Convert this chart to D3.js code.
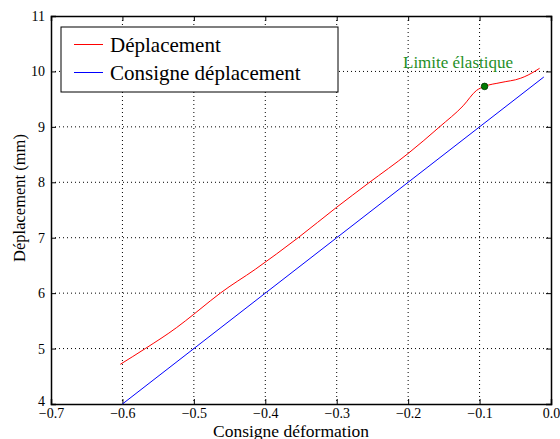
<!DOCTYPE html>
<html><head><meta charset="utf-8">
<script src="https://cdn.jsdelivr.net/npm/d3@7"></script>
<style>body{margin:0;background:#fff}svg{display:block}text{font-family:"Liberation Serif","Times New Roman",serif}</style>
</head><body><svg id="c" width="560" height="439"></svg>
<script>
const xTicks = [-0.7,-0.6,-0.5,-0.4,-0.3,-0.2,-0.1,0.0];
const yTicks = [4,5,6,7,8,9,10,11];
const depX = [-0.603,-0.568,-0.524,-0.5,-0.477,-0.463,-0.414,-0.354,-0.3,-0.255,-0.2,-0.156,-0.123,-0.104,-0.093,-0.07,-0.043,-0.032,-0.016];
const depY = [4.716,5.0,5.38,5.62,5.86,6.0,6.43,7.0,7.55,7.99,8.52,9.0,9.38,9.66,9.73,9.8,9.875,9.935,10.056];
const consX = [-0.6,-0.01];
const consY = [4.0,9.9];
const limitPoint = {x:-0.093, y:9.73, label:"Limite élastique"};
const seriesNames = ["Déplacement","Consigne déplacement"];

const svg = d3.select("#c");
const L=51,R=551,T=16,B=404;
const x = d3.scaleLinear().domain([-0.7,0]).range([L,R]);
const y = d3.scaleLinear().domain([4,11]).range([B,T]);
const fmtX = d=> d===0? "0.0" : (d<0?"\u2212":"")+Math.abs(d).toFixed(1);

// grid
const g = svg.append("g");
g.selectAll(".gx").data(xTicks.slice(1,-1)).join("line")
 .attr("x1",d=>x(d)).attr("x2",d=>x(d)).attr("y1",T).attr("y2",B)
 .attr("stroke","#000").attr("stroke-width",1).attr("stroke-dasharray","1,3");
g.selectAll(".gy").data(yTicks.slice(1,-1)).join("line")
 .attr("y1",d=>y(d)).attr("y2",d=>y(d)).attr("x1",L).attr("x2",R)
 .attr("stroke","#000").attr("stroke-width",1).attr("stroke-dasharray","1,3");

// axes (inward ticks on all sides)
const ax = svg.append("g").attr("transform",`translate(0,${B})`).call(d3.axisBottom(x).tickValues(xTicks).tickSize(-5).tickPadding(4).tickFormat(fmtX));
const ay = svg.append("g").attr("transform",`translate(${L},0)`).call(d3.axisLeft(y).tickValues(yTicks).tickSize(-5).tickPadding(6).tickFormat(d3.format("d")));
const at = svg.append("g").attr("transform",`translate(0,${T})`).call(d3.axisTop(x).tickValues(xTicks).tickSize(-5).tickFormat(""));
const ar = svg.append("g").attr("transform",`translate(${R},0)`).call(d3.axisRight(y).tickValues(yTicks).tickSize(-5).tickFormat(""));
[ax,ay,at,ar].forEach(a=>{a.select(".domain").attr("stroke","#000").attr("stroke-width",1.5);
  a.selectAll(".tick line").attr("stroke","#000");
  a.selectAll("text").attr("font-size",14).attr("fill","#000").style("font-family","'Liberation Serif',serif");});
ay.selectAll(".tick text").filter(d=>d===4).attr("dy","0.1em");

// lines
const line = d3.line().x(d=>x(d[0])).y(d=>y(d[1]));
svg.append("path").datum(consX.map((v,i)=>[v,consY[i]])).attr("d",line)
 .attr("fill","none").attr("stroke","#0000ff").attr("stroke-width",1);
svg.append("path").datum(depX.map((v,i)=>[v,depY[i]])).attr("d",d3.line().x(d=>x(d[0])).y(d=>y(d[1])).curve(d3.curveMonotoneX))
 .attr("fill","none").attr("stroke","#ff0000").attr("stroke-width",1);

// limit point
svg.append("circle").attr("cx",x(limitPoint.x)).attr("cy",y(limitPoint.y)).attr("r",3.3)
 .attr("fill","#007a00").attr("stroke","#003300").attr("stroke-width",0.8);
svg.append("text").attr("x",458).attr("y",68).attr("text-anchor","middle")
 .attr("font-size",17).attr("fill","#1f8f1f").text(limitPoint.label);

// legend
const lg = svg.append("g");
lg.append("rect").attr("x",61).attr("y",27).attr("width",277).attr("height",65)
 .attr("fill","#fff").attr("stroke","#000").attr("stroke-width",1);
const cols=["#ff0000","#0000ff"];
seriesNames.forEach((n,i)=>{
  const cy = 44.5 + i*28;
  lg.append("line").attr("x1",74).attr("x2",103).attr("y1",cy).attr("y2",cy).attr("stroke",cols[i]).attr("stroke-width",1);
  lg.append("text").attr("x",110).attr("y",cy+7).attr("font-size",21).attr("fill","#000").text(n);
});

// titles
svg.append("text").attr("x",291).attr("y",437).attr("text-anchor","middle").attr("font-size",17.5).text("Consigne déformation");
svg.append("text").attr("transform","translate(25,198) rotate(-90)").attr("text-anchor","middle").attr("font-size",16.5).text("Déplacement (mm)");
</script></body></html>
